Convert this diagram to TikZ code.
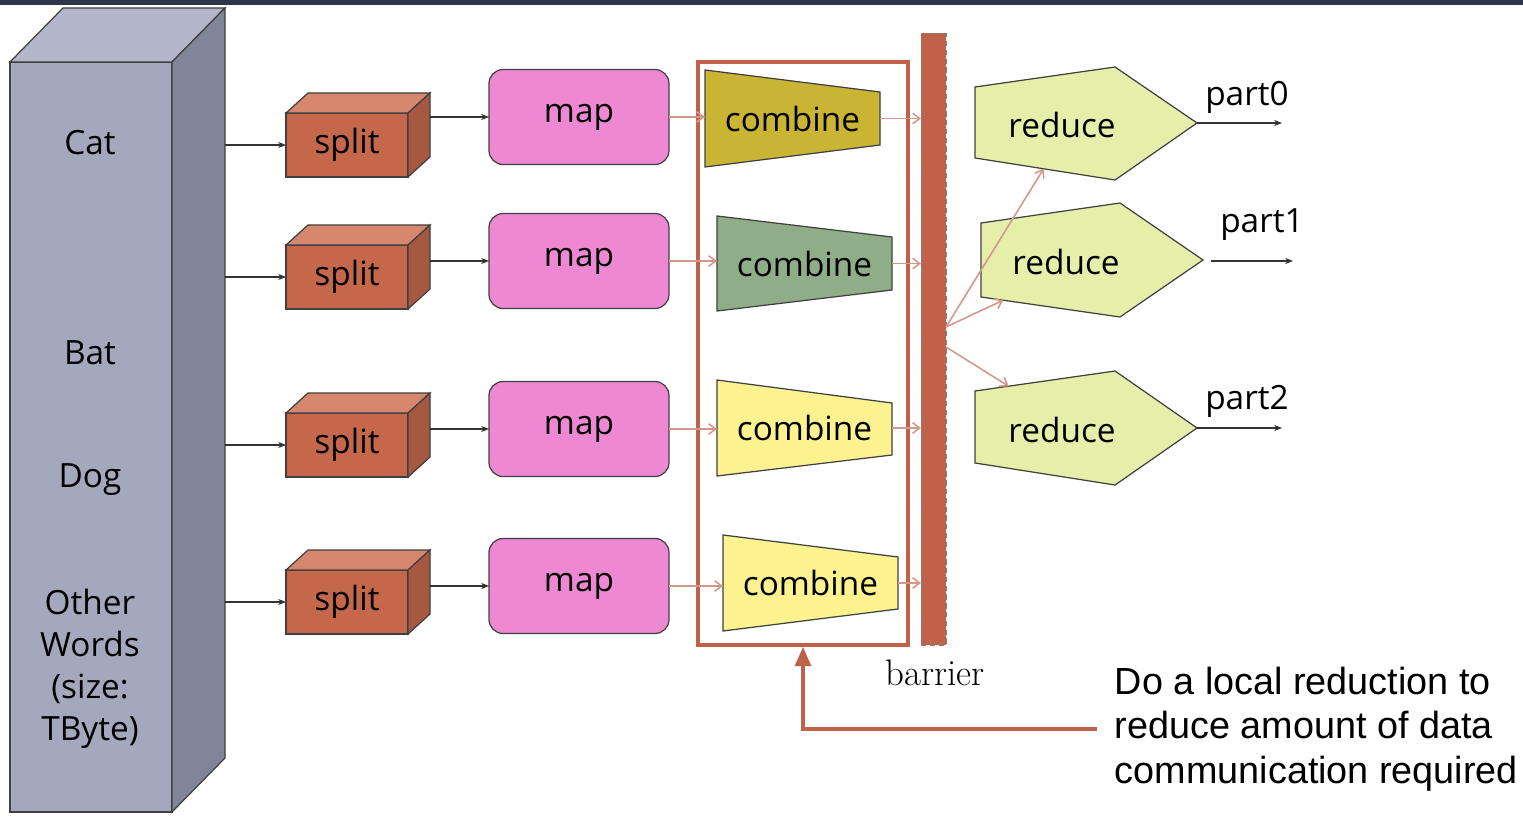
\documentclass[tikz,border=0pt]{standalone}
\usepackage{fontspec}
\newfontfamily\diagfont{Open Sans}
\newfontfamily\notefont{Liberation Sans}
\usepackage{tikz}
\usetikzlibrary{arrows.meta, positioning, calc}
\definecolor{SlideBar}{HTML}{2E3548}
\definecolor{StoreFront}{HTML}{A4A8BC}
\definecolor{StoreTop}{HTML}{B3B7C9}
\definecolor{StoreSide}{HTML}{808597}
\definecolor{SplitFront}{HTML}{C4674A}
\definecolor{SplitTop}{HTML}{D6876E}
\definecolor{SplitSide}{HTML}{A65841}
\definecolor{MapPink}{HTML}{EE88D3}
\definecolor{CombOlive}{HTML}{C9B433}
\definecolor{CombSage}{HTML}{8FAD87}
\definecolor{CombLemon}{HTML}{FCF290}
\definecolor{ReduceLime}{HTML}{E6EFA9}
\definecolor{Rust}{HTML}{C0614A}
\definecolor{Salmon}{HTML}{D6978B}
\newcommand{\pxu}{0.02cm}

\begin{document}
\begin{tikzpicture}[x=0.02cm, y=-0.02cm, >={Stealth[length=4.5pt, width=3.5pt]},
    face/.style={draw=black!75, line width=0.7pt},
    storetxt/.style={font=\diagfont\fontsize{19}{24}\selectfont, align=center},
    splitbox/.style={face, fill=SplitFront, minimum width=122*\pxu, minimum height=64*\pxu, inner sep=0pt, outer sep=0pt, font=\diagfont\fontsize{19}{22}\selectfont},
    mapbox/.style={face, fill=MapPink, rounded corners=8pt, minimum width=180*\pxu, minimum height=95*\pxu, inner sep=0pt, outer sep=0pt, font=\diagfont\fontsize{19}{22}\selectfont},
    combtxt/.style={minimum width=175*\pxu, minimum height=97*\pxu, inner sep=0pt, outer sep=0pt, font=\diagfont\fontsize{19}{22}\selectfont},
    redtxt/.style={inner sep=0pt, font=\diagfont\fontsize{19}{22}\selectfont},
    parttxt/.style={inner sep=0pt, font=\diagfont\fontsize{19}{22}\selectfont},
    flowarrow/.style={->, draw=black!80, line width=0.6pt},
    pinkarrow/.style={-{Straight Barb[length=4pt, width=6pt]}, draw=Salmon, line width=0.9pt},
    calloutline/.style={-{Triangle[length=11pt, width=9pt]}, draw=Rust, line width=2.1pt}]

        \useasboundingbox (0,0) rectangle (1523,817);
        \fill[SlideBar] (0,0) rectangle (1523,5);

        % input store
        \node[face, fill=StoreFront, minimum width=162*\pxu, minimum height=750*\pxu, inner sep=0pt, outer sep=0pt] (store) at (91,437) {};
        \filldraw[face, fill=StoreTop] (store.north west) -- ++(53,-54) -- ++(162,0) -- (store.north east) -- cycle;
        \filldraw[face, fill=StoreSide] (store.north east) -- ++(53,-54) coordinate (storeback) -- ++(0,750) -- (store.south east) -- cycle;
        \node[storetxt] (cat) at (90,143) {Cat};
        \node[storetxt] (bat) at (90,353) {Bat};
        \node[storetxt] (dog) at (90,480) {Dog};
        \node[storetxt] (other) at (90,669) {Other\\Words\\(size:\\TByte)};

        % split
        \node[splitbox] (s1) at (347,145) {split};
        \filldraw[face, fill=SplitTop] (s1.north west) -- ++(22,-20) -- ++(122,0) -- (s1.north east) -- cycle;
        \filldraw[face, fill=SplitSide] (s1.north east) -- ++(22,-20) coordinate (s1back) -- ++(0,64) -- (s1.south east) -- cycle;
        \node[splitbox] (s2) at (347,277) {split};
        \filldraw[face, fill=SplitTop] (s2.north west) -- ++(22,-20) -- ++(122,0) -- (s2.north east) -- cycle;
        \filldraw[face, fill=SplitSide] (s2.north east) -- ++(22,-20) coordinate (s2back) -- ++(0,64) -- (s2.south east) -- cycle;
        \node[splitbox] (s3) at (347,445) {split};
        \filldraw[face, fill=SplitTop] (s3.north west) -- ++(22,-20) -- ++(122,0) -- (s3.north east) -- cycle;
        \filldraw[face, fill=SplitSide] (s3.north east) -- ++(22,-20) coordinate (s3back) -- ++(0,64) -- (s3.south east) -- cycle;
        \node[splitbox] (s4) at (347,602) {split};
        \filldraw[face, fill=SplitTop] (s4.north west) -- ++(22,-20) -- ++(122,0) -- (s4.north east) -- cycle;
        \filldraw[face, fill=SplitSide] (s4.north east) -- ++(22,-20) coordinate (s4back) -- ++(0,64) -- (s4.south east) -- cycle;

        % map
        \node[mapbox] (m1) at (579,117) {map};
        \node[mapbox] (m2) at (579,261) {map};
        \node[mapbox] (m3) at (579,429) {map};
        \node[mapbox] (m4) at (579,586) {map};

        % combine
        \filldraw[face, fill=CombOlive] (705,70) -- (880,92) -- (880,145) -- (705,167) -- cycle;
        \filldraw[face, fill=CombSage] (717,216) -- (892,237) -- (892,290) -- (717,311) -- cycle;
        \filldraw[face, fill=CombLemon] (717,380) -- (892,403) -- (892,455) -- (717,476) -- cycle;
        \filldraw[face, fill=CombLemon] (723,535) -- (898,557) -- (898,609) -- (723,631) -- cycle;
        \node[combtxt] (c1) at (792.5,118.5) {combine};
        \node[combtxt] (c2) at (804.5,263.5) {combine};
        \node[combtxt] (c3) at (804.5,428) {combine};
        \node[combtxt] (c4) at (810.5,583) {combine};
        \node[draw=Rust, line width=2.1pt, minimum width=210*\pxu, minimum height=583*\pxu, inner sep=0pt] (box) at (803,353.5) {};

        % barrier
        \node[fill=Rust, draw=gray, densely dashed, line width=0.4pt, minimum width=25*\pxu, minimum height=612*\pxu, inner sep=0pt, outer sep=0pt] (bar) at (933.5,339) {};
        \node[font=\fontsize{21}{24}\selectfont, inner sep=0pt] (barlbl) at (935,673) {barrier};
        \coordinate (fanA) at ($(bar.east)+(0,-12)$);
        \coordinate (fanB) at ($(bar.east)+(0,8)$);

        % reduce
        \filldraw[face, fill=ReduceLime] (975,87) coordinate (r1nw) -- (1115,67) coordinate (r1n) -- (1197,123) coordinate (r1tip) -- (1115,180) coordinate (r1s) -- (975,158) coordinate (r1sw) -- cycle;
        \filldraw[face, fill=ReduceLime] (981,223) coordinate (r2nw) -- (1120,203) coordinate (r2n) -- (1203,260) coordinate (r2tip) -- (1120,317) coordinate (r2s) -- (981,297) coordinate (r2sw) -- cycle;
        \filldraw[face, fill=ReduceLime] (975,391) coordinate (r3nw) -- (1115,371) coordinate (r3n) -- (1197,428) coordinate (r3tip) -- (1115,485) coordinate (r3s) -- (975,463) coordinate (r3sw) -- cycle;
        \node[redtxt] (r1) at (1062,125) {reduce};
        \node[redtxt] (r2) at (1066,262) {reduce};
        \node[redtxt] (r3) at (1062,430) {reduce};

        % outputs
        \coordinate (out0) at (1282,123);
        \coordinate (in1) at (1211,261);
        \coordinate (out1) at (1293,261);
        \coordinate (out2) at (1282,428);
        \node[parttxt] (p0) at (1247,97) {part0};
        \node[parttxt] (p1) at (1262,225) {part1};
        \node[parttxt] (p2) at (1247,401) {part2};

        % note
        \node[anchor=west, align=left, inner xsep=10pt, inner ysep=0pt, font=\notefont\fontsize{21.5}{25.3}\selectfont] (note) at (1097,729) {Do a local reduction to\\reduce amount of data\\communication required};

        \draw[flowarrow] (s1.west -| storeback) -- (s1.west);
        \draw[flowarrow] (s2.west -| storeback) -- (s2.west);
        \draw[flowarrow] (s3.west -| storeback) -- (s3.west);
        \draw[flowarrow] (s4.west -| storeback) -- (s4.west);
        \draw[flowarrow] (m1.west -| s1back) -- (m1.west);
        \draw[flowarrow] (m2.west -| s2back) -- (m2.west);
        \draw[flowarrow] (m3.west -| s3back) -- (m3.west);
        \draw[flowarrow] (m4.west -| s4back) -- (m4.west);
        \draw[pinkarrow] (m1.east) -- (m1.east -| c1.west);
        \draw[pinkarrow] (m2.east) -- (m2.east -| c2.west);
        \draw[pinkarrow] (m3.east) -- (m3.east -| c3.west);
        \draw[pinkarrow] (m4.east) -- (m4.east -| c4.west);
        \draw[pinkarrow] (c1.east) -- (c1.east -| bar.west);
        \draw[pinkarrow] (c2.east) -- (c2.east -| bar.west);
        \draw[pinkarrow] (c3.east) -- (c3.east -| bar.west);
        \draw[pinkarrow] (c4.east) -- (c4.east -| bar.west);
        \draw[pinkarrow] (fanA) -- ($(r1sw)!.49!(r1s)$);
        \draw[pinkarrow] (fanA) -- ($(r2sw)!.16!(r2s)$);
        \draw[pinkarrow] (fanB) -- ($(r3nw)!.24!(r3n)$);
        \draw[flowarrow] (r1tip) -- (out0);
        \draw[flowarrow] (in1) -- (out1);
        \draw[flowarrow] (r3tip) -- (out2);
        \draw[calloutline] (note.west) -| (box.south);

    \end{tikzpicture}
\end{document}
